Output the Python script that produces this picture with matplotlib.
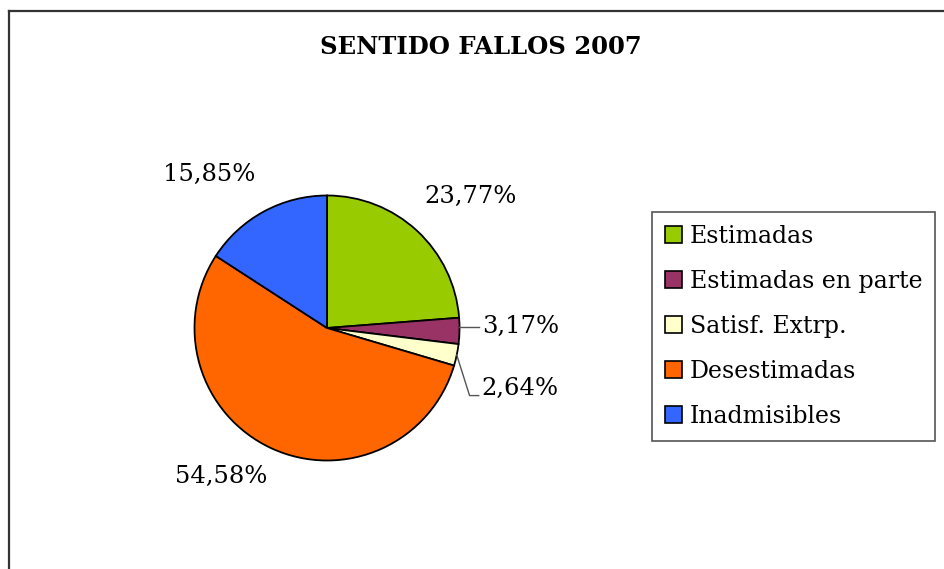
import matplotlib
matplotlib.use("Agg")
import matplotlib.pyplot as plt
from matplotlib.patches import Patch
from matplotlib.lines import Line2D
import numpy as np

# data
categories = ['Estimadas', 'Estimadas en parte', 'Satisf. Extrp.', 'Desestimadas', 'Inadmisibles']
shares = [23.77, 3.17, 2.64, 54.58, 15.85]
colors = ['#99CC00', '#993366', '#FFFFCC', '#FF6600', '#3366FF']
title = 'SENTIDO FALLOS 2007'

# layout (pie radius units) for the percentage labels
label_pos = [(1.08, 0.99), (1.17, 0.01), (1.165, -0.455), (-0.80, -1.12), (-0.89, 1.16)]
label_ha = ['center', 'left', 'left', 'center', 'center']

W, H = 944, 569
fig = plt.figure(figsize=(W / 100, H / 100), dpi=100)
fig.patch.set_facecolor('white')

# outer frame (cut off on right and bottom)
fig.add_artist(Line2D([9 / W, 1.0], [1 - 11 / H, 1 - 11 / H], transform=fig.transFigure, color='#333333', lw=1.6))
fig.add_artist(Line2D([9 / W, 9 / W], [0.0, 1 - 11 / H], transform=fig.transFigure, color='#333333', lw=1.6))

fig.text(481 / W, 1 - 47 / H, title, ha='center', va='center', family='DejaVu Serif',
         fontweight='bold', fontsize=17.5)

cx, cy, R = 327, 328, 132.5
ax = fig.add_axes([(cx - R) / W, (H - cy - R) / H, 2 * R / W, 2 * R / H])
wedges, _ = ax.pie(shares, colors=colors, startangle=90, counterclock=False, radius=1,
                   wedgeprops=dict(edgecolor='black', linewidth=1.3))
ax.set_xlim(-1, 1)
ax.set_ylim(-1, 1)
ax.set_aspect('equal')
ax.axis('off')

for i, w in enumerate(wedges):
    txt = f"{shares[i]:.2f}%".replace('.', ',')
    x, y = label_pos[i]
    ax.text(x, y, txt, ha=label_ha[i], va='center', family='DejaVu Serif', fontsize=17.5,
            clip_on=False)

# leader lines for the two thin slices
def edge(i):
    w = wedges[i]
    a = np.deg2rad((w.theta1 + w.theta2) / 2)
    return np.cos(a), np.sin(a)

ex, ey = edge(1)
ax.plot([ex, 1.15], [label_pos[1][1], label_pos[1][1]], color='#555555', lw=1, clip_on=False)
ex, ey = edge(2)
ax.plot([ex, 1.076, 1.145], [ey, -0.51, -0.51], color='#555555', lw=1, clip_on=False)

handles = [Patch(facecolor=c, edgecolor='black', linewidth=1.2) for c in colors]
leg = fig.legend(handles, categories, loc='upper left', bbox_to_anchor=(652 / W, 1 - 212 / H),
                 borderaxespad=0, prop={'family': 'DejaVu Serif', 'size': 17},
                 handlelength=0.7, handleheight=0.7, handletextpad=0.35,
                 labelspacing=0.93, borderpad=0.55, fancybox=False, framealpha=1)
leg.get_frame().set_edgecolor('#555555')
leg.get_frame().set_linewidth(1.2)

plt.savefig('out.png', dpi=100)
plt.close()
